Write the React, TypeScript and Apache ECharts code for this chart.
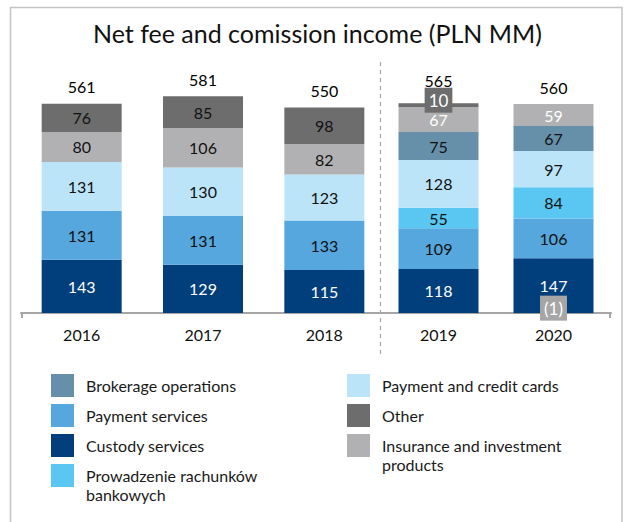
import React, { useEffect, useRef } from 'react';
import * as echarts from 'echarts';

const categories = ['2016', '2017', '2018', '2019', '2020'];
const custody = [143, 129, 115, 118, 147];
const paymentServices = [131, 131, 133, 109, 106];
const bankAccounts = [null, null, null, 55, 84];
const cards = [131, 130, 123, 128, 97];
const brokerage = [null, null, null, 75, 67];
const insurance = [80, 106, 82, 67, 59];
const other = [76, 85, 98, 10, -1];
const totals = [561, 581, 550, 565, 560];
const SPLIT = 3; // first 3 years left of dashed separator

const FONT = 'Lato';

const seriesDefs = [
  { name: 'Custody services', data: custody, color: '#013E7C', label: ['#ffffff', '#ffffff'] },
  { name: 'Payment services', data: paymentServices, color: '#56A7DD', label: ['#111', '#111'] },
  { name: 'Prowadzenie rachunków bankowych', data: bankAccounts, color: '#5AC7F2', label: ['#111', '#111'] },
  { name: 'Payment and credit cards', data: cards, color: '#BCE4F9', label: ['#111', '#111'] },
  { name: 'Brokerage operations', data: brokerage, color: '#6690AA', label: ['#111', '#111'] },
  { name: 'Insurance and investment products', data: insurance, color: '#B1B1B3', label: ['#111', '#ffffff'] },
  { name: 'Other', data: other, color: '#6D6D6D', label: ['#111', '#ffffff'] },
];

const TOP = 55.6;
const HEIGHT = 261.1;

export default function App() {
  const ref = useRef<HTMLDivElement>(null);
  useEffect(() => {
    if (!ref.current) return;
    const chart = echarts.init(ref.current, null, { renderer: 'svg' });

    const parts = [
      { idx: 0, cats: categories.slice(0, SPLIT), from: 0, to: SPLIT },
      { idx: 1, cats: categories.slice(SPLIT), from: SPLIT, to: categories.length },
    ];

    const series: any[] = [];
    parts.forEach((p) => {
      seriesDefs.forEach((d) => {
        const vals = d.data.slice(p.from, p.to);
        if (vals.every((v) => v === null)) return;
        const isOtherRight = d.name === 'Other' && p.idx === 1;
        series.push({
          type: 'bar',
          name: d.name,
          xAxisIndex: p.idx,
          yAxisIndex: p.idx,
          stack: 'S' + p.idx,
          barWidth: 80,
          itemStyle: { color: d.color },
          label: {
            show: true,
            position: 'inside',
            color: d.label[p.idx],
            fontSize: 16,
            fontFamily: FONT,
            formatter: (prm: any) => {
              const v = prm.value as number;
              return v < 0 ? `(${-v})` : String(v);
            },
          },
          data: vals.map((v) =>
            isOtherRight && v !== null
              ? {
                  value: v,
                  label: {
                    color: '#ffffff',
                    fontSize: 17,
                    backgroundColor: v < 0 ? '#A6A6A6' : '#6D6D6D',
                    padding: [5, 4, 3, 4],
                    offset: [0, -5],
                  },
                }
              : v
          ),
        });
      });
      const sums = categories.slice(p.from, p.to).map((_, i) =>
        seriesDefs.reduce((s, d) => {
          const v = d.data[p.from + i];
          return v !== null && v > 0 ? s + v : s;
        }, 0)
      );
      series.push({
        type: 'scatter',
        name: 'total' + p.idx,
        xAxisIndex: p.idx,
        yAxisIndex: p.idx,
        symbolSize: 1,
        silent: true,
        itemStyle: { color: 'transparent', opacity: 1 },
        label: {
          show: true,
          position: 'top',
          distance: 8.5,
          color: '#000',
          fontSize: 16,
          fontFamily: FONT,
          formatter: (prm: any) => String(totals[p.from + prm.dataIndex]),
        },
        data: sums.map((s, i) =>
          categories[p.from + i] === '2019' ? { value: s, label: { distance: 14.5 } } : s
        ),
      });
    });

    const axisColor = '#A6A6A6';
    const legendText = {
      fontSize: 16,
      color: '#1a1a1a',
      fontFamily: FONT,
      lineHeight: 19,
      padding: [0, 0, 0, 7],
    };
    const legendBase = {
      orient: 'vertical',
      icon: 'rect',
      itemWidth: 23,
      itemHeight: 23,
      itemGap: 7,
      padding: 0,
      selectedMode: false,
      textStyle: legendText,
    };

    chart.setOption({
      animation: false,
      backgroundColor: '#ffffff',
      textStyle: { fontFamily: FONT },
      title: {
        text: 'Net fee and comission income (PLN MM)',
        left: 93,
        top: 20,
        padding: 0,
        textStyle: { fontSize: 25, fontWeight: 'normal', color: '#111', fontFamily: FONT },
      },
      grid: [
        { left: 21, top: TOP, width: 364, height: HEIGHT },
        { left: 381, top: TOP, width: 230, height: HEIGHT },
      ],
      xAxis: parts.map((p) => ({
        type: 'category',
        gridIndex: p.idx,
        data: p.cats,
        axisLine: { onZero: true, lineStyle: { color: axisColor, width: 2 } },
        axisTick: { alignWithLabel: true, length: 5, lineStyle: { color: axisColor, width: 2 } },
        axisLabel: { fontSize: 16, color: '#111', margin: 10, fontFamily: FONT },
      })),
      yAxis: parts.map((p) => ({
        type: 'value',
        gridIndex: p.idx,
        show: false,
        min: -10,
        max: 690,
        splitLine: { show: false },
      })),
      legend: [
        {
          ...legendBase,
          left: 51,
          top: 374,
          data: ['Brokerage operations', 'Payment services', 'Custody services'],
        },
        {
          ...legendBase,
          left: 51,
          top: 447,
          formatter: () => '\nProwadzenie rachunków\nbankowych',
          data: ['Prowadzenie rachunków bankowych'],
        },
        {
          ...legendBase,
          left: 347,
          top: 374,
          data: ['Payment and credit cards', 'Other'],
        },
        {
          ...legendBase,
          left: 347,
          top: 417,
          formatter: () => '\nInsurance and investment\nproducts',
          data: ['Insurance and investment products'],
        },
      ],
      graphic: [
        {
          type: 'rect',
          silent: true,
          shape: { x: 10.5, y: 7.5, width: 611.5, height: 600 },
          style: { fill: 'none', stroke: '#C4C4C4', lineWidth: 1.5 },
        },
        {
          type: 'line',
          silent: true,
          shape: { x1: 380.5, y1: 62, x2: 380.5, y2: 354 },
          style: { stroke: '#A6A6A6', lineWidth: 1.2, lineDash: [4, 4] },
        },
        {
          type: 'line',
          silent: true,
          shape: { x1: 22, y1: 312, x2: 22, y2: 318 },
          style: { stroke: axisColor, lineWidth: 2 },
        },
        {
          type: 'line',
          silent: true,
          shape: { x1: 610, y1: 312, x2: 610, y2: 318 },
          style: { stroke: axisColor, lineWidth: 2 },
        },
      ],
      series,
    });
    return () => chart.dispose();
  }, []);
  return (
    <div
      ref={ref}
      style={{ position: 'fixed', left: 0, top: 0, width: 624, height: 522, background: '#fff' }}
    />
  );
}
